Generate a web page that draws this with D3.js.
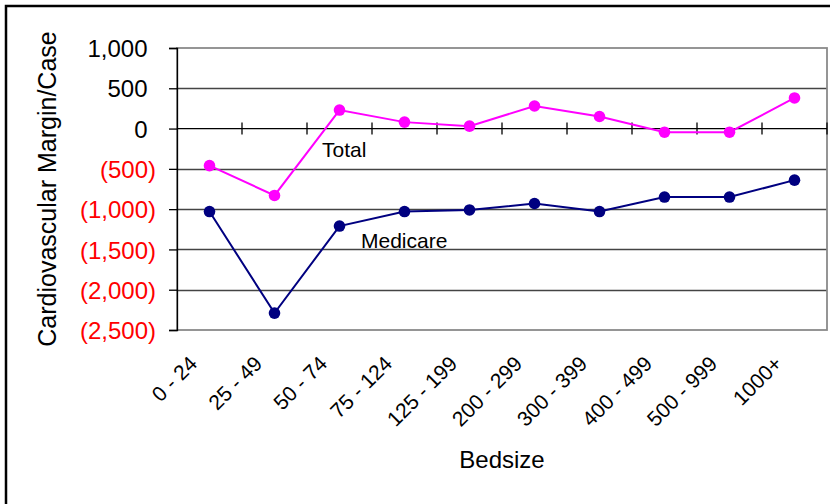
<!DOCTYPE html>
<html>
<head>
<meta charset="utf-8">
<script src="https://cdn.jsdelivr.net/npm/d3@7"></script>
<style>
  html, body { margin: 0; padding: 0; background: #fff; }
  svg { display: block; font-family: Arial, "Liberation Sans", sans-serif; }
</style>
</head>
<body>
<svg id="chart" width="830" height="504"></svg>
<script>
// Bed-size groups along the x axis
const categories = ["0 - 24", "25 - 49", "50 - 74", "75 - 124", "125 - 199",
                    "200 - 299", "300 - 399", "400 - 499", "500 - 999", "1000+"];

// Cardiovascular margin per case
const totalValues    = [-460, -830, 230, 80, 30, 280, 150, -45, -45, 380];
const medicareValues = [-1030, -2290, -1210, -1030, -1010, -930, -1030, -850, -850, -640];

// Value axis ticks
const yTicks = [1000, 500, 0, -500, -1000, -1500, -2000, -2500];

const svg = d3.select("#chart");
const W = 830, H = 504;
const plot = { left: 177, right: 827, top: 48, bottom: 330 };

// Outer chart frame
svg.append("rect")
  .attr("x", 6).attr("y", 6)
  .attr("width", W).attr("height", H)
  .attr("fill", "#fff")
  .attr("stroke", "#000").attr("stroke-width", 2.5);

const x = d3.scaleBand().domain(categories).range([plot.left, plot.right]).padding(0);
const y = d3.scaleLinear().domain([-2500, 1000]).range([plot.bottom, plot.top]);

const fmt = d3.format(",");
const label = v => v < 0 ? "(" + fmt(-v) + ")" : fmt(v);

// Horizontal gridlines
svg.append("g")
  .selectAll("line")
  .data(yTicks.filter(v => v !== 0 && v !== -2500 && v !== 1000))
  .join("line")
  .attr("x1", plot.left).attr("x2", plot.right)
  .attr("y1", d => Math.round(y(d)) + 0.5).attr("y2", d => Math.round(y(d)) + 0.5)
  .attr("stroke", "#444").attr("stroke-width", 1.3);

// Plot-area border
svg.append("rect")
  .attr("x", plot.left).attr("y", plot.top)
  .attr("width", plot.right - plot.left).attr("height", plot.bottom - plot.top)
  .attr("fill", "none").attr("stroke", "#8a8a8a").attr("stroke-width", 1.8);

// Left value axis
const yAxis = d3.axisLeft(y).tickValues(yTicks).tickSize(8).tickFormat(label);
const gy = svg.append("g").attr("transform", `translate(${plot.left},0)`).call(yAxis);
gy.select(".domain").attr("stroke", "#000").attr("stroke-width", 1.3);
gy.selectAll(".tick line").attr("stroke", "#000").attr("stroke-width", 1.3);
gy.selectAll(".tick text")
  .attr("font-size", 24)
  .attr("font-family", "Arial, 'Liberation Sans', sans-serif")
  .attr("fill", d => d < 0 ? "#ff0000" : "#000")
  .attr("x", d => d < 0 ? -21 : -29.5)
  .attr("dy", "0.36em");

// Zero line with category tick marks
svg.append("line")
  .attr("x1", plot.left).attr("x2", plot.right)
  .attr("y1", y(0)).attr("y2", y(0))
  .attr("stroke", "#000").attr("stroke-width", 1.3);
svg.append("g")
  .selectAll("line")
  .data(categories)
  .join("line")
  .attr("x1", d => x(d) + x.bandwidth()).attr("x2", d => x(d) + x.bandwidth())
  .attr("y1", y(0) - 6).attr("y2", y(0) + 6)
  .attr("stroke", "#000").attr("stroke-width", 1.3);

// Category labels, rotated
svg.append("g")
  .selectAll("text")
  .data(categories)
  .join("text")
  .attr("transform", d => `translate(${x(d) + x.bandwidth() / 2 - 11},${365}) rotate(-45)`)
  .attr("text-anchor", "end")
  .attr("font-size", 21)
  .attr("fill", "#000")
  .text(d => d);

// Series lines and markers
const series = [
  { name: "Total", values: totalValues, color: "#ff00ff" },
  { name: "Medicare", values: medicareValues, color: "#000080" }
];
const line = d3.line()
  .x((d, i) => x(categories[i]) + x.bandwidth() / 2)
  .y(d => y(d));

series.forEach(s => {
  svg.append("path")
    .datum(s.values)
    .attr("d", line)
    .attr("fill", "none")
    .attr("stroke", s.color)
    .attr("stroke-width", 2);
  svg.append("g")
    .selectAll("circle")
    .data(s.values)
    .join("circle")
    .attr("cx", (d, i) => x(categories[i]) + x.bandwidth() / 2)
    .attr("cy", d => y(d))
    .attr("r", 5.8)
    .attr("fill", s.color);
});

// Series name labels
svg.append("text").attr("x", 322).attr("y", 157)
  .attr("font-size", 21).attr("fill", "#000").text("Total");
svg.append("text").attr("x", 361).attr("y", 248)
  .attr("font-size", 21).attr("fill", "#000").text("Medicare");

// Axis titles
svg.append("text")
  .attr("transform", `translate(56,189) rotate(-90)`)
  .attr("text-anchor", "middle")
  .attr("font-size", 25)
  .attr("fill", "#000")
  .text("Cardiovascular Margin/Case");

svg.append("text")
  .attr("x", (plot.left + plot.right) / 2).attr("y", 468)
  .attr("text-anchor", "middle")
  .attr("font-size", 24)
  .attr("fill", "#000")
  .text("Bedsize");
</script>
</body>
</html>
